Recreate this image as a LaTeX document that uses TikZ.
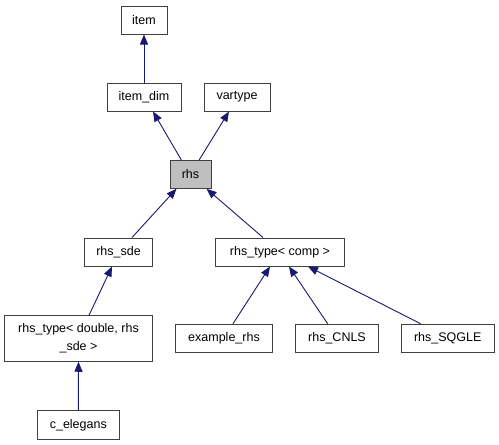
\documentclass[tikz,border=0pt]{standalone}
\usepackage{fontspec}
\setmainfont{Liberation Sans}
\usetikzlibrary{arrows.meta}
\definecolor{edgec}{HTML}{191970}
\definecolor{boxc}{HTML}{404040}
\definecolor{hl}{HTML}{BFBFBF}
\begin{document}
\begin{tikzpicture}[x=1pt,y=-1pt,
  cls/.style={draw=boxc,line width=1pt,fill=white,inner sep=0pt,font=\fontsize{12.5}{18}\selectfont,align=center},
  inh/.style={draw=edgec,line width=0.9pt,-{Triangle[length=10pt,width=8pt]}}]
\useasboundingbox (0,0) rectangle (499,445);
\node[cls,minimum width=46pt,minimum height=28pt] (item) at (144,20) {item};
\node[cls,minimum width=74pt,minimum height=28pt] (itemdim) at (144,97) {item\_dim};
\node[cls,minimum width=66pt,minimum height=28pt] (vartype) at (237,97) {vartype};
\node[cls,fill=hl,minimum width=41pt,minimum height=27.5pt] (rhs) at (190.5,174.5) {rhs};
\node[cls,minimum width=68.5pt,minimum height=28pt] (rhssde) at (118.5,252) {rhs\_sde};
\node[cls,minimum width=128.5pt,minimum height=28pt] (comp) at (280,252) {rhs\_type< comp >};
\node[cls,minimum width=148.5pt,minimum height=45.5pt] (dbl) at (78.5,338.5) {rhs\_type< double, rhs\\\_sde >};
\node[cls,minimum width=96.5pt,minimum height=28.5pt] (ex) at (224,338.5) {example\_rhs};
\node[cls,minimum width=83.5pt,minimum height=28.5pt] (cnls) at (337,338.5) {rhs\_CNLS};
\node[cls,minimum width=92.7pt,minimum height=28.5pt] (sqgle) at (447.7,338.5) {rhs\_SQGLE};
\node[cls,minimum width=81.7pt,minimum height=28.3pt] (cel) at (78.3,425) {c\_elegans};
\draw[inh] (itemdim.north) -- (item.south);
\draw[inh] ([xshift=-9pt]rhs.north) -- ([xshift=9pt]itemdim.south);
\draw[inh] ([xshift=8.5pt]rhs.north) -- ([xshift=-8pt]vartype.south);
\draw[inh] ([xshift=13.5pt]rhssde.north) -- ([xshift=-14pt]rhs.south);
\draw[inh] ([xshift=-17pt]comp.north) -- ([xshift=16pt]rhs.south);
\draw[inh] ([xshift=10.5pt]dbl.north) -- ([xshift=-6.5pt]rhssde.south);
\draw[inh] ([xshift=9pt]ex.north) -- ([xshift=-10pt]comp.south);
\draw[inh] ([xshift=-9.3pt]cnls.north) -- ([xshift=9pt]comp.south);
\draw[inh] ([xshift=-27pt]sqgle.north) -- ([xshift=28pt]comp.south);
\draw[inh] (cel.north) -- (dbl.south);
\end{tikzpicture}
\end{document}
